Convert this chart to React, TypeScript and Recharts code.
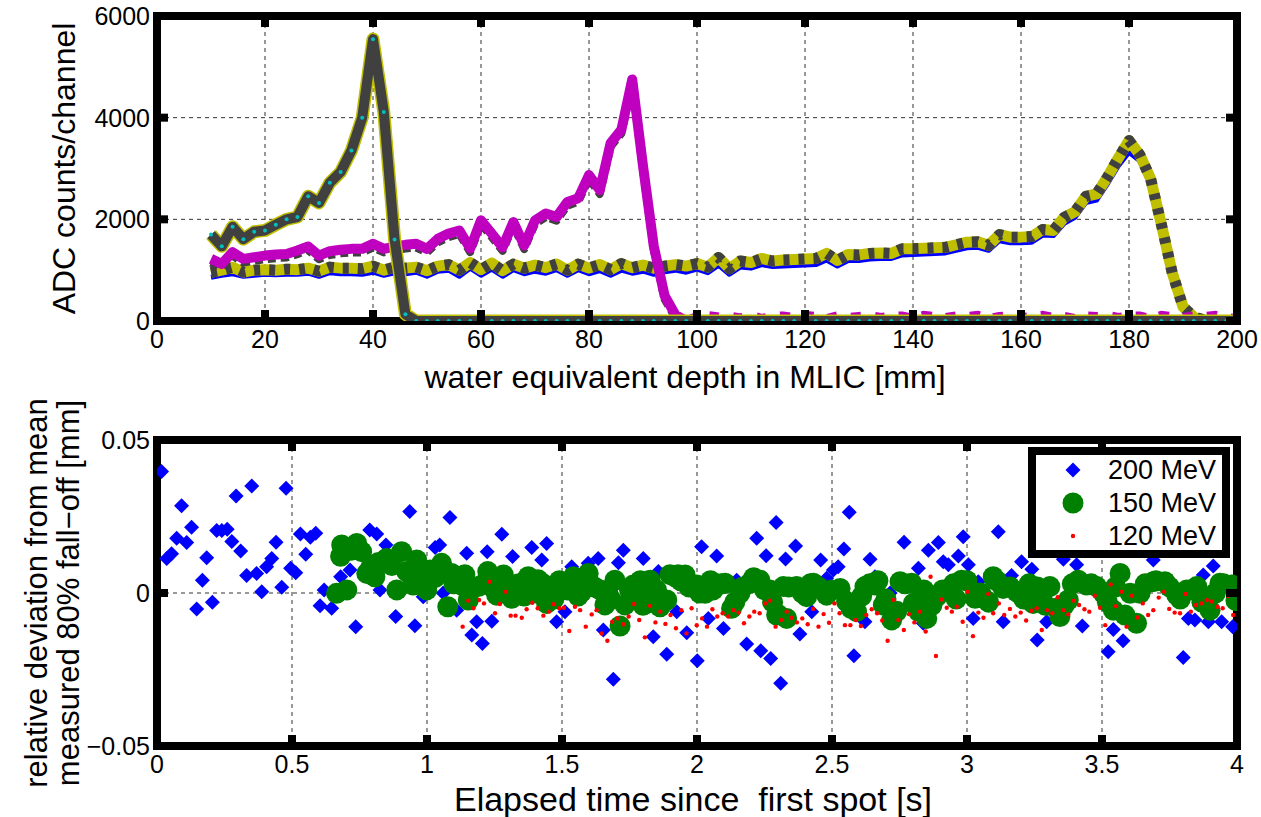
import React from 'react';
import {
  ComposedChart,
  Line,
  XAxis,
  YAxis,
  CartesianGrid,
  ScatterChart,
  Scatter,
  Legend,
} from 'recharts';

const FONT = '"Liberation Sans", Arial, Helvetica, sans-serif';

// ---------- top panel data ----------
const depthMm = [
  10, 12, 14, 16, 18, 20, 22, 24, 26, 28, 30, 32, 34, 36, 38, 40, 42, 44, 46, 48,
  50, 52, 54, 56, 58, 60, 62, 64, 66, 68, 70, 72, 74, 76, 78, 80, 82, 84, 86, 88,
  90, 92, 94, 96, 98, 100, 102, 104, 106, 108, 110, 112, 114, 116, 118, 120, 122, 124, 126, 128,
  130, 132, 134, 136, 138, 140, 142, 144, 146, 148, 150, 152, 154, 156, 158, 160, 162, 164, 166, 168,
  170, 172, 174, 176, 178, 180, 182, 184, 186, 188, 190, 192, 194, 196, 198, 200,
];

const peak40Counts = [
  1700, 1470, 1855, 1610, 1756, 1782, 1895, 2000, 2046, 2455,
  2323, 2719, 2930, 3352, 4000, 5545, 4112, 1604, 132, 0,
  0, 0, 0, 0, 0, 0, 0, 0, 0, 0,
  0, 0, 0, 0, 0, 0, 0, 0, 0, 0,
  0, 0, 0, 0, 0, 0, 0, 0, 0, 0,
  0, 0, 0, 0, 0, 0, 0, 0, 0, 0,
  0, 0, 0, 0, 0, 0, 0, 0, 0, 0,
  0, 0, 0, 0, 0, 0, 0, 0, 0, 0,
  0, 0, 0, 0, 0, 0, 0, 0, 0, 0,
  0, 0, 0, 0, 0, 0,
];

const peak88Counts = [
  1222, 1122, 1353, 1222, 1254, 1287, 1307, 1320, 1386, 1465,
  1287, 1373, 1400, 1419, 1419, 1518, 1419, 1465, 1498, 1518,
  1419, 1617, 1720, 1780, 1426, 1980, 1720, 1450, 1947, 1485,
  1980, 2115, 2046, 2343, 2415, 2871, 2574, 3500, 3762, 4752,
  3050, 1470, 500, 120, 0,
];

const shadow88Counts = [
  1150, 1050, 1280, 1150, 1180, 1215, 1235, 1250, 1315, 1395,
  1215, 1300, 1330, 1350, 1350, 1445, 1350, 1395, 1425, 1445,
  1350, 1545, 1650, 1710, 1355, 1910, 1650, 1380, 1875, 1415,
  1910, 2045, 1975, 2270, 2345, 2800, 2500, 3430, 3690, 4680,
  2980, 1400, 430, 60, 0,
];

const tail88Counts = [
  0, 90, 110, 80, 100, 60, 110, 50, 90, 100,
  70, 110, 90, 50, 100, 70, 90, 110, 70, 90,
  100, 50, 110, 90, 70, 100, 90, 110, 50, 90,
  100, 70, 90, 110, 70, 90, 50, 100, 90, 110,
  70, 90, 100, 50, 110, 90, 70, 100, 90, 110,
  70, 50,
];

const peak180Counts = [
  957, 1000, 1056, 960, 1000, 1010, 1000, 1020, 1010, 1040,
  980, 1060, 1040, 1040, 1030, 1080, 1000, 1060, 1040, 1060,
  990, 1080, 1110, 1000, 1150, 1010, 1140, 990, 1120, 1040,
  1100, 1050, 1120, 1000, 1120, 1040, 1110, 1010, 1130, 1050,
  1100, 1040, 1080, 1110, 1080, 1130, 1060, 1250, 1030, 1180,
  1150, 1230, 1180, 1200, 1210, 1220, 1230, 1330, 1190, 1310,
  1300, 1330, 1340, 1330, 1420, 1420, 1430, 1440, 1450, 1500,
  1550, 1560, 1490, 1700, 1650, 1650, 1660, 1800, 1780, 2040,
  2150, 2450, 2500, 2830, 3200, 3550, 3270, 2800, 1900, 950,
  280, 80, 20, 0, 0, 0,
];

const blue180Counts = [
  860, 900, 930, 880, 900, 920, 910, 920, 920, 940,
  880, 950, 930, 930, 920, 960, 900, 950, 930, 960,
  880, 980, 1000, 880, 1040, 900, 1020, 880, 1010, 930,
  980, 940, 1010, 900, 1010, 930, 990, 900, 1000, 940,
  980, 920, 970, 1000, 960, 1020, 950, 1100, 920, 1060,
  1040, 1110, 1070, 1080, 1090, 1100, 1110, 1200, 1080, 1190,
  1190, 1220, 1230, 1230, 1300, 1310, 1320, 1330, 1340, 1390,
  1440, 1450, 1390, 1580, 1540, 1540, 1550, 1690, 1680, 1920,
  2040, 2330, 2380, 2700, 3050, 3320, 3150, 2700, 1800, 860,
  230, 50, 10, 0, 0, 0,
];

const depthTicks = [0, 20, 40, 60, 80, 100, 120, 140, 160, 180, 200];
const depthGrid = [20, 40, 60, 80, 100, 120, 140, 160, 180];
const countTicks = [0, 2000, 4000, 6000];
const countGrid = [2000, 4000];

const toSeries = (depths: number[], vals: number[]) =>
  vals.map((v, i) => ({ depth: depths[i], value: v }));

const peak40Data = toSeries(depthMm, peak40Counts);
const peak88Data = toSeries(depthMm, peak88Counts);
const shadow88Data = toSeries(depthMm, shadow88Counts);
const tail88Data = toSeries(depthMm.slice(44), tail88Counts);
const peak180Data = toSeries(depthMm, peak180Counts);
const blue180Data = toSeries(depthMm, blue180Counts);

// ---------- bottom panel data ----------
const mev200: [number, number][] = [
  [0.017, 0.0397], [0.036, 0.0113], [0.054, 0.0128], [0.073, 0.0179], [0.091, 0.0285], [0.11, 0.0165],
  [0.128, 0.0215], [0.147, -0.0052], [0.168, 0.0042], [0.184, 0.0115], [0.205, -0.003], [0.221, 0.0204],
  [0.24, 0.0204], [0.26, 0.0208], [0.277, 0.0168], [0.293, 0.0317], [0.31, 0.0137], [0.332, 0.0057],
  [0.351, 0.035], [0.369, 0.0064], [0.388, 0.0004], [0.406, 0.0086], [0.425, 0.0113], [0.441, 0.0166],
  [0.462, 0.0019], [0.478, 0.0342], [0.495, 0.0081], [0.514, 0.0066], [0.531, 0.0193], [0.551, 0.0127],
  [0.568, 0.0182], [0.588, 0.0195], [0.604, -0.0042], [0.619, 0.001], [0.647, -0.005], [0.68, 0.0053],
  [0.715, 0.0075], [0.736, -0.011], [0.788, 0.0206], [0.814, 0.0193], [0.826, 0.001], [0.848, 0.0157],
  [0.884, -0.0077], [0.936, 0.0266], [0.955, -0.0107], [0.986, -0.0012], [1.03, 0.0149], [1.047, 0.0157],
  [1.06, 0], [1.085, 0.0247], [1.11, -0.0056], [1.147, 0.013], [1.166, -0.0137], [1.184, -0.0094],
  [1.205, -0.0165], [1.223, 0.0135], [1.24, -0.0092], [1.277, 0.0192], [1.317, 0.0119], [1.388, 0.0149],
  [1.425, 0.0108], [1.443, 0.0162], [1.48, -0.0094], [1.511, -0.0061], [1.536, 0.0086], [1.597, 0.0097],
  [1.634, 0.0113], [1.653, -0.0121], [1.69, -0.0282], [1.709, 0.0099], [1.727, 0.014], [1.801, 0.0113],
  [1.838, -0.0143], [1.857, 0.007], [1.888, -0.02], [1.925, -0.0061], [1.962, -0.013], [2.001, -0.0221],
  [2.017, 0.0151], [2.042, -0.0083], [2.073, 0.0121], [2.098, -0.0116], [2.147, 0.0042], [2.184, -0.0167],
  [2.221, 0.0179], [2.236, -0.0189], [2.256, 0.0122], [2.273, -0.0214], [2.293, 0.023], [2.31, -0.0295],
  [2.328, 0.0111], [2.365, 0.0154], [2.381, -0.0134], [2.425, -0.0061], [2.458, 0.0108], [2.48, 0.0048],
  [2.505, 0.0075], [2.523, 0.0086], [2.544, 0.0144], [2.564, 0.0264], [2.581, -0.0205], [2.622, -0.0094],
  [2.641, 0.011], [2.659, 0.0053], [2.715, 0], [2.767, 0.0166], [2.82, 0.0081], [2.838, -0.0099],
  [2.857, 0.014], [2.894, 0.0165], [2.912, 0.0102], [2.931, 0.0092], [2.968, 0.0121], [2.986, 0.0184],
  [3.005, 0.0092], [3.023, -0.0083], [3.042, 0.0037], [3.116, 0.02], [3.134, -0.0094], [3.165, 0.0057],
  [3.202, 0.0102], [3.24, 0.0078], [3.26, -0.0154], [3.295, -0.0094], [3.357, 0.011], [3.406, 0.0092],
  [3.427, -0.0108], [3.523, -0.0192], [3.542, -0.0119], [3.578, -0.0156], [3.69, 0.0108], [3.801, -0.0211],
  [3.82, -0.0083], [3.844, -0.0088], [3.875, 0.0059], [3.894, -0.0094], [3.912, 0.0088], [3.943, -0.0094],
  [3.984, -0.011],
];

const mev150: [number, number][] = [
  [0.665, -0.0001], [0.68, 0.012], [0.684, 0.0157], [0.703, 0.001], [0.72, 0.014], [0.74, 0.0162],
  [0.758, 0.0135], [0.777, 0.0064], [0.79, 0.008], [0.807, 0.0053], [0.82, 0.01], [0.85, 0.0113],
  [0.87, 0.009], [0.888, 0.001], [0.906, 0.0135], [0.925, 0.007], [0.94, 0.006], [0.949, 0.0026],
  [0.962, 0.0108], [0.98, 0.004], [0.999, 0.001], [1.011, 0.0075], [1.03, 0.005], [1.054, 0.0097],
  [1.077, -0.0045], [1.091, 0.0064], [1.1, 0.003], [1.128, 0.0026], [1.14, 0.006], [1.153, -0.0023],
  [1.19, 0.0021], [1.21, 0.003], [1.225, 0.007], [1.24, 0.002], [1.258, -0.0007], [1.283, 0.0059],
  [1.3, 0.002], [1.314, -0.0017], [1.34, 0.003], [1.36, -0.001], [1.375, 0.0053], [1.4, 0],
  [1.412, 0.0043], [1.43, 0.003], [1.443, -0.0034], [1.454, 0.0021], [1.47, -0.002], [1.49, 0.004],
  [1.505, 0.0032], [1.52, 0.001], [1.542, 0.0053], [1.56, -0.001], [1.573, 0.0004], [1.58, 0.003],
  [1.597, 0.0064], [1.62, 0.002], [1.641, 0.001], [1.659, -0.0039], [1.67, 0], [1.68, -0.002],
  [1.696, 0.0042], [1.715, -0.0108], [1.733, -0.0039], [1.75, 0.001], [1.764, 0.0026], [1.783, -0.0007],
  [1.79, 0.004], [1.8, -0.004], [1.814, -0.0034], [1.826, 0.0042], [1.84, -0.003], [1.85, 0.001],
  [1.863, -0.0045], [1.888, -0.0023], [1.9, 0.006], [1.919, 0.0053], [1.93, 0.006], [1.94, 0.004],
  [1.956, 0.0059], [1.97, 0.002], [1.999, 0.0026], [2.01, 0], [2.03, -0.0001], [2.05, 0.004],
  [2.06, 0.001], [2.073, 0.0026], [2.09, 0.003], [2.104, 0.0032], [2.128, -0.005], [2.14, -0.003],
  [2.159, -0.0001], [2.17, 0.002], [2.196, 0.0032], [2.21, 0.005], [2.233, 0.0042], [2.25, 0.001],
  [2.27, 0.001], [2.28, -0.003], [2.295, -0.0072], [2.3, -0.007], [2.32, 0.0021], [2.332, -0.0083],
  [2.34, 0.002], [2.369, 0.0021], [2.39, 0], [2.406, -0.0012], [2.42, 0.003], [2.431, 0.0032],
  [2.45, 0.002], [2.48, -0.0007], [2.5, 0.001], [2.53, 0.0015], [2.554, -0.0028], [2.57, -0.005],
  [2.591, -0.0061], [2.61, -0.001], [2.622, 0.0021], [2.64, 0.003], [2.659, 0.0026], [2.67, 0.004],
  [2.69, -0.0039], [2.7, -0.002], [2.721, -0.0088], [2.74, -0.006], [2.752, 0.0037], [2.77, 0.003],
  [2.795, 0.0032], [2.801, -0.0034], [2.82, -0.006], [2.84, 0.001], [2.851, -0.0083], [2.87, -0.004],
  [2.888, -0.0012], [2.91, 0.001], [2.937, 0.0004], [2.95, 0.003], [2.96, -0.002], [2.98, 0.0042],
  [3.0, 0.004], [3.03, -0.0017], [3.05, 0], [3.061, -0.0017], [3.08, -0.003], [3.097, 0.0053],
  [3.11, 0.004], [3.134, 0.0015], [3.16, 0.002], [3.184, 0.0004], [3.21, -0.002], [3.23, 0.003],
  [3.245, -0.0034], [3.26, 0.002], [3.282, 0.0004], [3.29, -0.004], [3.307, 0.0021], [3.33, -0.005],
  [3.344, -0.0077], [3.36, -0.004], [3.375, -0.0023], [3.39, 0.003], [3.412, 0.0042], [3.443, 0.0026],
  [3.46, 0.003], [3.48, 0.0021], [3.505, -0.0001], [3.52, -0.003], [3.542, -0.0056], [3.55, 0.002],
  [3.567, 0.0064], [3.585, -0.0072], [3.604, -0.0001], [3.628, -0.0099], [3.641, -0.0001], [3.66, 0.003],
  [3.69, 0.0037], [3.7, 0.004], [3.733, 0.0037], [3.75, 0.002], [3.777, -0.0007], [3.79, -0.002],
  [3.814, 0.001], [3.83, 0.001], [3.851, 0.0021], [3.87, -0.003], [3.9, -0.0056], [3.92, 0],
  [3.937, 0.0032], [3.95, 0.003], [3.98, 0.0026], [3.996, -0.0025],
];

const mev120: [number, number][] = [
  [1.132, -0.011], [1.153, -0.0025], [1.172, -0.005], [1.193, -0.0023], [1.211, -0.0034], [1.231, 0.0037],
  [1.252, -0.0066], [1.27, -0.0036], [1.291, 0.0004], [1.31, -0.0074], [1.328, -0.0074], [1.351, -0.0081],
  [1.369, -0.0053], [1.39, -0.0032], [1.41, -0.005], [1.431, -0.0074], [1.451, -0.0061], [1.468, -0.0037],
  [1.49, -0.005], [1.507, -0.0048], [1.527, -0.0124], [1.548, -0.0045], [1.567, -0.0056], [1.588, -0.011],
  [1.61, -0.007], [1.628, -0.0056], [1.647, -0.0132], [1.668, -0.0156], [1.686, -0.0094], [1.706, -0.0083],
  [1.727, -0.0102], [1.747, -0.0077], [1.767, -0.0036], [1.786, -0.0088], [1.807, -0.0145], [1.826, -0.0042],
  [1.846, -0.0096], [1.864, -0.0061], [1.883, -0.0101], [1.902, -0.0072], [1.922, -0.0115], [1.942, -0.0056],
  [1.961, -0.0132], [1.98, -0.005], [1.999, -0.0105], [2.019, -0.0083], [2.037, -0.011], [2.057, -0.0053],
  [2.075, -0.0077], [2.095, -0.0066], [2.116, -0.0077], [2.134, -0.0056], [2.154, -0.0064], [2.174, -0.0099],
  [2.194, -0.0077], [2.212, -0.0061], [2.232, -0.0066], [2.252, -0.0034], [2.271, -0.0025], [2.291, -0.011],
  [2.311, -0.0088], [2.332, -0.0061], [2.35, -0.0081], [2.37, -0.0096], [2.39, -0.0083], [2.41, -0.0102],
  [2.43, -0.0052], [2.45, -0.011], [2.469, -0.0069], [2.489, -0.0097], [2.509, -0.0034], [2.528, -0.0066],
  [2.548, -0.0105], [2.568, -0.0105], [2.588, -0.0088], [2.607, -0.0108], [2.627, -0.0072], [2.647, -0.0053],
  [2.667, -0.0066], [2.686, -0.009], [2.706, -0.0156], [2.726, -0.0023], [2.746, -0.0088], [2.766, -0.0121],
  [2.785, -0.0069], [2.805, -0.0096], [2.826, -0.0061], [2.847, -0.0126], [2.865, 0.0053], [2.885, -0.0206],
  [2.905, -0.0021], [2.925, -0.0048], [2.944, -0.0061], [2.962, -0.0045], [2.984, -0.0094], [3.001, 0.0004],
  [3.022, -0.0141], [3.042, -0.0064], [3.061, -0.0081], [3.079, -0.0003], [3.097, -0.0066], [3.118, -0.0034],
  [3.138, -0.0072], [3.159, -0.0052], [3.179, -0.0077], [3.199, -0.0064], [3.219, -0.009], [3.238, -0.0058],
  [3.258, -0.005], [3.277, -0.0121], [3.296, -0.0056], [3.316, -0.0066], [3.336, -0.0014], [3.356, -0.0056],
  [3.375, -0.007], [3.395, -0.0025], [3.415, -0.0039], [3.435, -0.0053], [3.453, -0.0061], [3.473, -0.0009],
  [3.493, -0.0048], [3.512, -0.0105], [3.532, 0.0028], [3.552, -0.0043], [3.572, 0.0004], [3.591, -0.011],
  [3.611, -0.0009], [3.631, -0.008], [3.651, -0.0034], [3.671, -0.0072], [3.69, -0.0056], [3.71, -0.0015],
  [3.73, 0.0004], [3.749, -0.0052], [3.769, -0.0064], [3.789, -0.0066], [3.809, -0.0003], [3.829, -0.0061],
  [3.848, -0.0039], [3.868, -0.0034], [3.888, -0.0023], [3.907, -0.0028], [3.927, -0.0045], [3.947, -0.005],
  [3.967, -0.001], [3.986, -0.0072],
];

const timeTicks = [0, 0.5, 1, 1.5, 2, 2.5, 3, 3.5, 4];
const timeGrid = [0.5, 1, 1.5, 2, 2.5, 3, 3.5];
const devTicks = [-0.05, 0, 0.05];
const devGrid = [0];

const legendItems = [
  { label: '200 MeV', marker: 'diamond' },
  { label: '150 MeV', marker: 'circle' },
  { label: '120 MeV', marker: 'dot' },
];

const toPoints = (pts: [number, number][]) => pts.map(([t, v]) => ({ t, v }));

// ---------- layout ----------
const W = 1261;
const PLOT_L = 157;
const PLOT_W = 1080;
const TOP_H = 400;
const TOP_PLOT_T = 16;
const TOP_PLOT_H = 305;
const BOT_TOP = 370;
const BOT_H = 817 - BOT_TOP;
const BOT_PLOT_T = 70;
const BOT_PLOT_H = 306;
const TICK_LEN = 11;
const TICK_FONT = 25;
const TITLE_FONT = 32;
const FRAME = 8;

const fmtPlain = (v: number) => String(v);
const fmtDev = (v: number) => (v < 0 ? '\u2212' + String(Math.abs(v)) : String(v));

const makeXTick = (plotH: number, fmt: (v: number) => string) => (props: any) => {
  const { x, y, payload } = props;
  return (
    <g>
      <rect x={x - 4} y={y - TICK_LEN} width={8} height={TICK_LEN} fill="#000" />
      <rect x={x - 4} y={y - plotH} width={8} height={TICK_LEN} fill="#000" />
      <text x={x} y={y + 27} textAnchor="middle" fontSize={TICK_FONT} fontFamily={FONT} fill="#000">
        {fmt(payload.value)}
      </text>
    </g>
  );
};

const makeYTick = (fmt: (v: number) => string) => (props: any) => {
  const { x, y, payload } = props;
  return (
    <g>
      <rect x={x} y={y - 4} width={TICK_LEN} height={8} fill="#000" />
      <rect x={x + PLOT_W - TICK_LEN} y={y - 4} width={TICK_LEN} height={8} fill="#000" />
      <text x={x - 7} y={y + 9} textAnchor="end" fontSize={TICK_FONT} fontFamily={FONT} fill="#000">
        {fmt(payload.value)}
      </text>
    </g>
  );
};

const XTitle = (props: any) => {
  const vb = props.viewBox || { x: 0, y: 0, width: 0 };
  return (
    <text
      x={vb.x + vb.width / 2 + props.dx}
      y={vb.y + props.dy}
      textAnchor="middle"
      fontSize={props.size}
      fontFamily={FONT}
      fill="#000"
      style={{ whiteSpace: 'pre' }}
    >
      {props.text}
    </text>
  );
};

const YTitle = (props: any) => {
  const vb = props.viewBox || { x: 0, y: 0, height: 0 };
  const cy = vb.y + vb.height / 2;
  const lines: string[] = props.lines;
  return (
    <g>
      {lines.map((ln, i) => {
        const cx = props.xs[i];
        return (
          <text
            key={i}
            x={cx}
            y={cy}
            transform={`rotate(-90, ${cx}, ${cy})`}
            textAnchor="middle"
            dominantBaseline="central"
            fontSize={props.size}
            fontFamily={FONT}
            fill="#000"
          >
            {ln}
          </text>
        );
      })}
    </g>
  );
};

const DiamondShape = (props: any) => {
  const { cx, cy } = props;
  const h = 7.5;
  return (
    <polygon
      points={`${cx},${cy - h} ${cx + h},${cy} ${cx},${cy + h} ${cx - h},${cy}`}
      fill="#0000ff"
    />
  );
};
const CircleShape = (props: any) => <circle cx={props.cx} cy={props.cy} r={10.5} fill="#008000" />;
const DotShape = (props: any) => <circle cx={props.cx} cy={props.cy} r={2.2} fill="#ff0000" />;

const LegendBox = () => (
  <div
    style={{
      width: 202,
      height: 111,
      boxSizing: 'border-box',
      border: '8px solid #000',
      background: '#fff',
    }}
  >
    <svg width={186} height={95} style={{ display: 'block' }}>
      {legendItems.map((it, i) => {
        const cy = 15 + i * 33;
        const cx = 37;
        let marker: React.ReactNode = null;
        if (it.marker === 'diamond') marker = <DiamondShape cx={cx} cy={cy} />;
        else if (it.marker === 'circle') marker = <CircleShape cx={cx} cy={cy} />;
        else marker = <DotShape cx={cx} cy={cy} />;
        return (
          <g key={it.label}>
            {marker}
            <text x={72} y={cy + 9} fontSize={27} fontFamily={FONT} fill="#000">
              {it.label}
            </text>
          </g>
        );
      })}
    </svg>
  </div>
);

const Frame = ({ top, height }: { top: number; height: number }) => (
  <div
    style={{
      position: 'absolute',
      left: PLOT_L - FRAME / 2,
      top: top - FRAME / 2,
      width: PLOT_W + FRAME,
      height: height + FRAME,
      boxSizing: 'border-box',
      border: `${FRAME}px solid #000`,
    }}
  />
);

export default function App() {
  return (
    <div style={{ position: 'absolute', left: 0, top: 0, width: W, height: 817, background: '#fff', fontFamily: FONT }}>
      <Frame top={TOP_PLOT_T} height={TOP_PLOT_H} />
      <Frame top={BOT_TOP + BOT_PLOT_T} height={BOT_PLOT_H} />
      <div style={{ position: 'absolute', left: 0, top: 0 }}>
        <ComposedChart width={W} height={TOP_H} margin={{ top: TOP_PLOT_T, right: W - PLOT_L - PLOT_W, bottom: 0, left: 0 }}>
          <CartesianGrid
            stroke="#333"
            strokeDasharray="4 4"
            strokeWidth={1}
            verticalValues={depthGrid}
            horizontalValues={countGrid}
          />
          <XAxis
            dataKey="depth"
            type="number"
            domain={[0, 200]}
            ticks={depthTicks}
            allowDataOverflow
            height={TOP_H - TOP_PLOT_T - TOP_PLOT_H}
            tickSize={0}
            tickMargin={0}
            tickLine={false}
            axisLine={false}
            tick={makeXTick(TOP_PLOT_H, fmtPlain)}
            interval={0}
            label={<XTitle text="water equivalent depth in MLIC [mm]" dy={67} dx={-12} size={32} />}
          />
          <YAxis
            type="number"
            domain={[0, 6000]}
            ticks={countTicks}
            allowDataOverflow
            width={PLOT_L}
            tickSize={0}
            tickMargin={0}
            tickLine={false}
            axisLine={false}
            tick={makeYTick(fmtPlain)}
            interval={0}
            label={<YTitle lines={['ADC counts/channel']} xs={[64]} size={TITLE_FONT} />}
          />
          <Line data={blue180Data} dataKey="value" stroke="#0000ff" strokeWidth={5} dot={false} strokeLinejoin="round" isAnimationActive={false} />
          <Line data={peak180Data} dataKey="value" stroke="#bfbf00" strokeWidth={11} dot={false} strokeLinejoin="round" isAnimationActive={false} />
          <Line data={peak180Data} dataKey="value" stroke="#404040" strokeWidth={11} strokeDasharray="6 9" dot={false} strokeLinejoin="round" isAnimationActive={false} />
          <Line data={tail88Data} dataKey="value" stroke="#bf00bf" strokeWidth={9} strokeDasharray="10 14" dot={false} isAnimationActive={false} />
          <Line data={shadow88Data} dataKey="value" stroke="#404040" strokeWidth={8} strokeDasharray="8 5" dot={false} strokeLinejoin="round" isAnimationActive={false} />
          <Line data={peak88Data} dataKey="value" stroke="#bf00bf" strokeWidth={10} dot={false} strokeLinejoin="round" isAnimationActive={false} />
          <Line data={peak40Data} dataKey="value" stroke="#bfbf00" strokeWidth={13} dot={false} strokeLinejoin="round" isAnimationActive={false} />
          <Line
            data={peak40Data}
            dataKey="value"
            stroke="#404040"
            strokeWidth={10}
            strokeLinejoin="round"
            dot={{ r: 2, fill: '#00bfbf', stroke: 'none' }}
            isAnimationActive={false}
          />
        </ComposedChart>
      </div>
      <div style={{ position: 'absolute', left: 0, top: BOT_TOP }}>
        <ScatterChart width={W} height={BOT_H} margin={{ top: BOT_PLOT_T, right: W - PLOT_L - PLOT_W, bottom: 0, left: 0 }}>
          <CartesianGrid
            stroke="#333"
            strokeDasharray="4 4"
            strokeWidth={1}
            verticalValues={timeGrid}
            horizontalValues={devGrid}
          />
          <XAxis
            dataKey="t"
            type="number"
            domain={[0, 4]}
            ticks={timeTicks}
            allowDataOverflow
            height={BOT_H - BOT_PLOT_T - BOT_PLOT_H}
            tickSize={0}
            tickMargin={0}
            tickLine={false}
            axisLine={false}
            tick={makeXTick(BOT_PLOT_H, fmtPlain)}
            interval={0}
            label={<XTitle text={'Elapsed time since  first spot [s]'} dy={65} dx={-4} size={34} />}
          />
          <YAxis
            dataKey="v"
            type="number"
            domain={[-0.05, 0.05]}
            ticks={devTicks}
            allowDataOverflow
            width={PLOT_L}
            tickSize={0}
            tickMargin={0}
            tickLine={false}
            axisLine={false}
            tick={makeYTick(fmtDev)}
            interval={0}
            label={
              <YTitle
                lines={['relative deviation from mean', 'measured 80% fall\u2212off [mm]']}
                xs={[36, 68]}
                size={31}
              />
            }
          />
          <Scatter name="200 MeV" data={toPoints(mev200)} fill="#0000ff" shape={DiamondShape} isAnimationActive={false} />
          <Scatter name="150 MeV" data={toPoints(mev150)} fill="#008000" shape={CircleShape} isAnimationActive={false} />
          <Scatter name="120 MeV" data={toPoints(mev120)} fill="#ff0000" shape={DotShape} isAnimationActive={false} />
          <Legend
            layout="vertical"
            align="center"
            verticalAlign="middle"
            content={() => <LegendBox />}
            wrapperStyle={{ position: 'absolute', left: 1028, top: BOT_PLOT_T + 7, width: 202, height: 111 }}
          />
        </ScatterChart>
      </div>
    </div>
  );
}
